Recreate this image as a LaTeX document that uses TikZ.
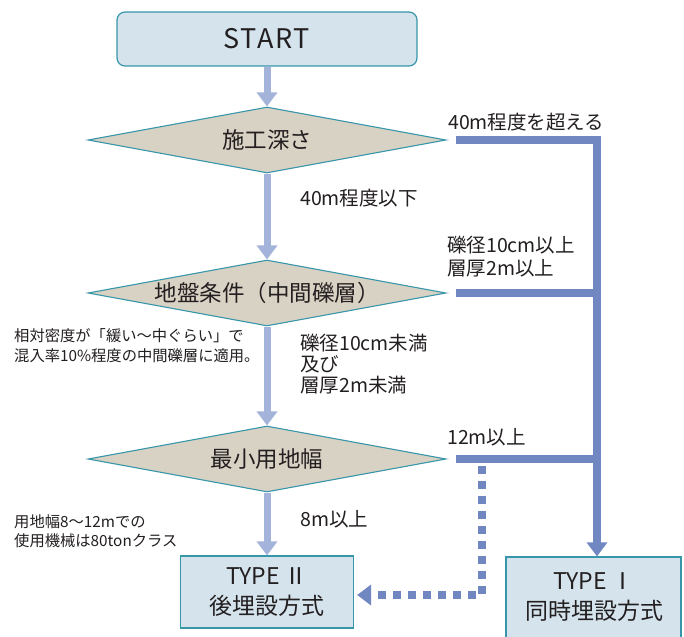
\documentclass[tikz,border=0pt]{standalone}
\usepackage{fontspec}
\setmainfont{Noto Sans CJK JP}
\usetikzlibrary{shapes.geometric,arrows.meta}
\definecolor{boxfill}{HTML}{D4E3EC}
\definecolor{boxline}{HTML}{3896AA}
\definecolor{diafill}{HTML}{D8D2C4}
\definecolor{mainline}{HTML}{A4B3D9}
\definecolor{sideline}{HTML}{7187C2}
\definecolor{ink}{HTML}{231F20}
\tikzset{
  every node/.style={text=ink},
  startbox/.style={draw=boxline,line width=1.2pt,fill=boxfill,rounded corners=8pt,minimum width=300pt,minimum height=54pt,inner sep=0pt,font=\fontsize{27}{30}\selectfont\addfontfeature{LetterSpace=6}},
  typebox/.style={draw=boxline,line width=1.2pt,fill=boxfill,inner sep=0pt,align=center,font=\fontsize{23}{30}\selectfont},
  decision/.style={draw=boxline,line width=1.1pt,fill=diafill,shape=diamond,aspect=5.45,inner sep=0pt,minimum width=358pt,minimum height=66pt,font=\fontsize{22.5}{25}\selectfont},
  lbl/.style={anchor=west,inner sep=0pt,align=left,font=\fontsize{19.5}{23}\selectfont},
  note/.style={anchor=west,inner sep=0pt,align=left,font=\fontsize{15.3}{20}\selectfont},
  mainarrow/.style={draw=mainline,line width=7pt,-{Triangle[width=20pt,length=14pt]}},
  sidearrow/.style={draw=sideline,line width=8pt},
}
\begin{document}
\begin{tikzpicture}[x=1pt,y=1pt]
\useasboundingbox (0,0) rectangle (684,-636);
\fill[white] (0,0) rectangle (684,-636);
\node[startbox] (start) at (267,-39) {START};
\node[decision] (d1) at (267,-140) {施工深さ};
\node[decision] (d2) at (267,-293) {地盤条件（中間礫層）};
\node[decision] (d3) at (267,-459) {最小用地幅};
\node[typebox,minimum width=173pt,minimum height=72pt] (t2) at (267,-592) {TYPE Ⅱ\\後埋設方式};
\node[typebox,minimum width=175pt,minimum height=86pt] (t1) at (593.5,-600) {};
\node[typebox,draw=none,fill=none] (t1txt) at (594,-597) {TYPE Ⅰ\\同時埋設方式};

\coordinate (j1) at (597,-140);
\coordinate (j2) at (597,-293);
\coordinate (j3) at (597,-459);
\coordinate (q0) at (482,-466);
\coordinate (q1) at (482,-595);

% main flow
\draw[mainarrow] (start.south) -- (d1.north);
\draw[mainarrow] (d1.south) -- (d2.north);
\draw[mainarrow] (d2.south) -- (d3.north);
\draw[mainarrow] (d3.south) -- (t2.north);

% right side
\draw[sidearrow,shorten <=9pt] (d1.east) -- (j1);
\draw[sidearrow,shorten <=9pt] (d2.east) -- (j2);
\draw[sidearrow,shorten <=9pt] (d3.east) -- (j3);
\draw[sidearrow,-{Triangle[width=20pt,length=14pt]}] ([yshift=4pt]j1) -- (j1 |- t1.north);

% dashed
\draw[draw=sideline,line width=8pt,dash pattern=on 8pt off 7pt,-{Triangle[width=20pt,length=14pt]},shorten >=3pt] (q0) -- (q1) -- (q1 -| t2.east);

% labels
\node[lbl] (l1) at (448,-122) {40m程度を超える};
\node[lbl] (l2) at (300,-198) {40m程度以下};
\node[lbl] (l3) at (447,-257) {礫径10cm以上\\層厚2m以上};
\node[lbl,font=\fontsize{19.5}{21}\selectfont] (l4) at (300,-364) {礫径10cm未満\\及び\\層厚2m未満};
\node[lbl] (l5) at (447,-437) {12m以上};
\node[lbl] (l6) at (300,-519) {8m以上};
\node[note] (n1) at (14,-346) {相対密度が「緩い～中ぐらい」で\\混入率10\%程度の中間礫層に適用。};
\node[note,font=\fontsize{15.3}{19}\selectfont] (n2) at (14,-531) {用地幅8～12mでの\\使用機械は80tonクラス};
\end{tikzpicture}
\end{document}
